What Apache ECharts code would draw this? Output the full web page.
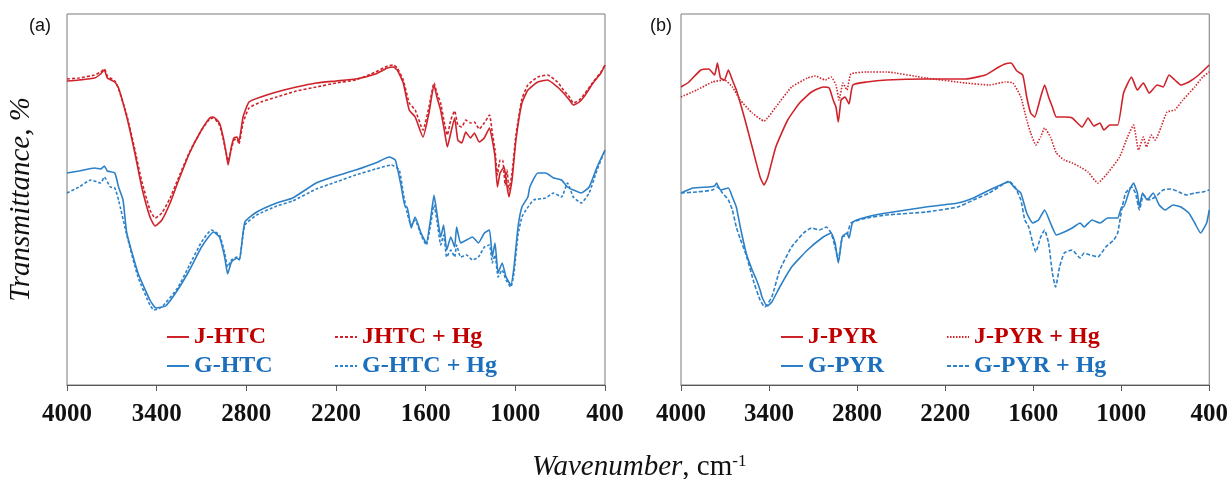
<!DOCTYPE html>
<html><head><meta charset="utf-8">
<script src="https://cdn.jsdelivr.net/npm/echarts@6/dist/echarts.min.js"></script>
<style>html,body{margin:0;padding:0;background:#fff}#c{width:1231px;height:479px}</style>
</head><body><div id="c"></div>
<script>
// x tick labels (wavenumber, cm-1)
const tickLabels = ['4000','3400','2800','2200','1600','1000','400'];

// Panel (a): [wavenumber, transmittance (arbitrary units)]
const jhtc = [[4000,304],[3920,305],[3815,307],[3775,311],[3750,315],[3730,307],[3680,303],[3655,297],[3600,268],[3550,235],[3500,198],[3445,168],[3410,159],[3365,165],[3310,182],[3260,202],[3180,232],[3100,255],[3045,267],[3020,268],[2980,262],[2955,248],[2935,232],[2922,220],[2900,238],[2883,247],[2862,248],[2850,243],[2822,268],[2782,283],[2703,288],[2597,293],[2465,298],[2332,302],[2200,304],[2068,306],[1935,311],[1856,317],[1816,318],[1790,315],[1750,302],[1710,275],[1670,268],[1618,248],[1578,272],[1544,300],[1525,288],[1500,275],[1472,252],[1455,238],[1432,252],[1406,267],[1385,245],[1358,242],[1332,253],[1300,247],[1274,252],[1242,243],[1208,247],[1173,257],[1154,245],[1136,228],[1120,198],[1102,212],[1075,218],[1062,205],[1043,188],[1022,205],[996,245],[956,282],[916,295],[850,303],[784,305],[718,298],[678,292],[638,285],[612,280],[572,283],[532,290],[480,302],[427,312],[400,320]];
const jhtcHg = [[4000,306],[3920,307],[3815,310],[3775,313],[3750,316],[3730,309],[3680,304],[3655,296],[3600,270],[3550,238],[3500,204],[3445,175],[3410,167],[3365,172],[3310,187],[3260,205],[3180,233],[3100,255],[3045,266],[3020,267],[2980,260],[2955,246],[2935,232],[2922,224],[2900,236],[2883,245],[2862,246],[2850,241],[2822,262],[2782,277],[2703,283],[2597,288],[2465,294],[2332,298],[2200,302],[2068,305],[1935,313],[1856,319],[1816,320],[1790,317],[1750,305],[1710,282],[1670,275],[1618,255],[1578,278],[1544,302],[1525,292],[1500,282],[1472,260],[1455,250],[1432,265],[1406,274],[1385,260],[1358,258],[1332,265],[1300,262],[1274,263],[1242,256],[1208,262],[1173,270],[1154,252],[1136,235],[1120,210],[1102,225],[1085,225],[1068,200],[1055,215],[1043,195],[1022,212],[996,250],[956,286],[916,300],[850,308],[784,310],[718,303],[678,295],[638,288],[612,282],[572,285],[532,292],[480,303],[427,313],[400,320]];
const ghtc = [[4000,212],[3920,214],[3815,217],[3775,216],[3750,219],[3730,214],[3680,212],[3655,198],[3625,185],[3600,152],[3525,112],[3445,85],[3405,77],[3340,79],[3260,95],[3180,115],[3100,138],[3020,153],[2980,148],[2945,128],[2925,111],[2900,123],[2862,127],[2846,125],[2810,163],[2730,173],[2597,182],[2490,187],[2332,202],[2200,209],[2068,215],[1935,222],[1843,228],[1803,225],[1763,198],[1737,178],[1724,178],[1697,157],[1671,168],[1631,152],[1596,142],[1565,168],[1544,190],[1525,172],[1499,148],[1480,160],[1459,135],[1432,148],[1406,138],[1393,158],[1366,142],[1327,145],[1287,148],[1247,142],[1207,152],[1173,155],[1154,128],[1136,142],[1115,112],[1088,122],[1062,108],[1030,100],[1009,118],[982,158],[956,178],[916,188],[903,198],[850,212],[797,212],[744,207],[691,205],[651,198],[612,195],[559,192],[506,198],[453,218],[400,235]];
const ghtcHg = [[4000,192],[3920,198],[3841,205],[3775,202],[3750,208],[3710,198],[3680,197],[3655,185],[3600,150],[3525,108],[3445,80],[3418,75],[3365,78],[3260,97],[3180,120],[3100,143],[3034,155],[2980,150],[2945,132],[2925,118],[2900,125],[2862,128],[2846,126],[2810,160],[2730,170],[2597,179],[2490,184],[2332,196],[2200,203],[2068,210],[1935,216],[1829,220],[1777,215],[1750,192],[1724,172],[1697,160],[1671,165],[1631,150],[1596,140],[1565,162],[1544,180],[1525,165],[1499,140],[1480,150],[1459,128],[1432,135],[1406,128],[1393,140],[1366,128],[1327,130],[1287,125],[1247,128],[1207,138],[1173,140],[1154,122],[1136,130],[1115,108],[1088,115],[1062,105],[1030,98],[1009,112],[982,150],[956,168],[929,175],[877,185],[797,187],[744,192],[691,188],[651,202],[612,188],[559,182],[506,192],[453,215],[400,235]];

// Panel (b)
const jpyr = [[4000,298],[3946,303],[3865,315],[3811,316],[3771,310],[3752,322],[3731,307],[3704,305],[3677,315],[3650,305],[3623,295],[3569,268],[3515,238],[3461,208],[3434,200],[3408,208],[3354,238],[3273,265],[3192,282],[3111,293],[3031,298],[2990,297],[2963,285],[2944,278],[2928,263],[2909,285],[2882,288],[2855,281],[2829,300],[2734,303],[2600,305],[2330,306],[2061,306],[1926,310],[1846,317],[1792,321],[1751,322],[1711,314],[1671,310],[1644,288],[1617,272],[1590,268],[1549,288],[1522,300],[1495,288],[1469,278],[1442,268],[1388,268],[1334,267],[1267,258],[1226,267],[1186,259],[1145,262],[1118,255],[1078,260],[1024,260],[984,292],[930,308],[890,295],[849,302],[809,292],[755,300],[714,298],[674,310],[634,305],[593,300],[539,303],[472,310],[400,320]];
const jpyrHg = [[4000,288],[3892,295],[3785,303],[3704,305],[3650,298],[3596,285],[3515,272],[3434,264],[3354,278],[3246,298],[3138,307],[3084,309],[3017,305],[2977,308],[2944,300],[2923,285],[2896,302],[2869,295],[2842,311],[2734,313],[2600,313],[2330,307],[2061,302],[1899,300],[1792,303],[1738,302],[1684,288],[1644,265],[1617,252],[1582,240],[1549,248],[1522,257],[1482,248],[1442,232],[1388,225],[1334,222],[1280,218],[1226,213],[1159,202],[1092,212],[1011,228],[957,248],[916,260],[882,235],[849,248],[828,238],[795,250],[768,245],[728,258],[688,273],[634,275],[580,285],[499,298],[445,308],[400,313]];
const gpyr = [[4000,192],[3919,197],[3811,198],[3771,199],[3758,202],[3731,195],[3677,197],[3650,188],[3623,178],[3596,158],[3556,132],[3515,115],[3488,106],[3461,95],[3448,88],[3413,79],[3381,83],[3327,98],[3246,118],[3138,135],[3031,148],[2977,152],[2950,142],[2928,122],[2901,148],[2869,152],[2855,147],[2829,163],[2734,168],[2600,172],[2330,178],[2115,182],[2007,187],[1926,193],[1792,202],[1765,203],[1724,197],[1684,192],[1644,172],[1603,162],[1563,165],[1522,175],[1482,162],[1442,150],[1388,153],[1334,157],[1280,162],[1253,158],[1199,165],[1145,162],[1092,167],[1024,167],[997,178],[984,178],[943,195],[916,202],[890,192],[876,178],[855,192],[822,185],[782,192],[741,180],[701,175],[647,180],[593,178],[539,172],[499,162],[459,152],[418,162],[400,175]];
const gpyrHg = [[4000,192],[3892,193],[3785,195],[3752,198],[3717,192],[3677,185],[3650,175],[3623,158],[3596,146],[3556,130],[3502,102],[3461,85],[3429,78],[3381,88],[3327,115],[3246,138],[3165,152],[3111,157],[3057,155],[3009,158],[2977,152],[2950,138],[2928,125],[2901,148],[2869,150],[2842,162],[2734,167],[2600,170],[2330,173],[2115,178],[2007,185],[1899,192],[1792,202],[1765,204],[1724,198],[1684,185],[1657,165],[1630,158],[1603,142],[1582,133],[1549,148],[1522,155],[1495,142],[1469,112],[1447,98],[1420,118],[1388,132],[1334,135],[1280,127],[1253,132],[1213,130],[1159,128],[1105,138],[1051,145],[1024,152],[997,175],[970,192],[930,198],[903,192],[876,175],[849,190],[809,185],[768,188],[714,195],[661,196],[607,193],[553,190],[499,192],[445,193],[400,195]];

const RED = '#cf232b', BLUE = '#2c80c8', RED_T = '#c00000', BLUE_T = '#1c6fbd';
const serif = '"Liberation Serif","Times New Roman",serif';
const sans = '"Liberation Sans",Arial,sans-serif';

function xAx(i) {
  return {
    gridIndex: i, type: 'value', inverse: true, min: 400, max: 4000, interval: 600,
    axisLine: { onZero: false, lineStyle: { color: '#5a5a5a', width: 1 } },
    axisTick: { length: 6, lineStyle: { color: '#5a5a5a' } },
    splitLine: { show: false },
    axisLabel: {
      showMinLabel: true, showMaxLabel: true, hideOverlap: false,
      formatter: v => { const t = tickLabels.find(s => +s === v); return t || ''; },
      fontFamily: serif, fontWeight: 'bold', fontSize: 25, color: '#111', margin: 17
    }
  };
}
function yAx(i) {
  return {
    gridIndex: i, type: 'value', min: 0, max: 371,
    axisLine: { show: false }, axisTick: { show: false }, axisLabel: { show: false }, splitLine: { show: false },
    name: i === 0 ? 'Transmittance, %' : '', nameLocation: 'middle', nameGap: 31,
    nameTextStyle: { fontFamily: serif, fontStyle: 'italic', fontWeight: 'normal', fontSize: 29, color: '#111' }
  };
}
function ln(name, data, gi, color, type) {
  return {
    name, type: 'line', xAxisIndex: gi, yAxisIndex: gi, data,
    showSymbol: false, symbol: 'none', smooth: 0.15,
    lineStyle: { color, width: 1.6, type }, itemStyle: { color }
  };
}
function lg(items, left) {
  return {
    data: items.map(([n, c]) => ({ name: n, textStyle: { color: c } })),
    orient: 'vertical', left, top: 325, padding: 0,
    itemWidth: 22, itemHeight: 12, itemGap: 5,
    itemStyle: { opacity: 0 },
    lineStyle: { width: 2 },
    textStyle: { fontFamily: serif, fontWeight: 'bold', fontSize: 24 }
  };
}

const chart = echarts.init(document.getElementById('c'));
chart.setOption({
  animation: false,
  backgroundColor: '#fff',
  title: [
    { text: '(a)', left: 24, top: 12, textStyle: { fontFamily: sans, fontWeight: 'normal', fontSize: 18, color: '#111' } },
    { text: '(b)', left: 645, top: 12, textStyle: { fontFamily: sans, fontWeight: 'normal', fontSize: 18, color: '#111' } },
    {
      text: '{i|Wavenumber}{n|, cm}{s|-1}', left: 527, top: 448,
      textStyle: {
        rich: {
          i: { fontFamily: serif, fontStyle: 'italic', fontWeight: 'normal', fontSize: 29, color: '#111' },
          n: { fontFamily: serif, fontWeight: 'normal', fontSize: 29, color: '#111' },
          s: { fontFamily: serif, fontWeight: 'normal', fontSize: 17, color: '#111', verticalAlign: 'top' }
        }
      }
    }
  ],
  grid: [
    { left: 67, top: 14, width: 538, height: 371, show: true, borderColor: '#7a7a7a', borderWidth: 1 },
    { left: 681, top: 14, width: 529, height: 371, show: true, borderColor: '#7a7a7a', borderWidth: 1 }
  ],
  xAxis: [xAx(0), xAx(1)],
  yAxis: [yAx(0), yAx(1)],
  legend: [
    lg([['J-HTC', RED_T], ['G-HTC', BLUE_T]], 166),
    lg([['JHTC + Hg', RED_T], ['G-HTC + Hg', BLUE_T]], 334),
    lg([['J-PYR', RED_T], ['G-PYR', BLUE_T]], 780),
    lg([['J-PYR + Hg', RED_T], ['G-PYR + Hg', BLUE_T]], 946)
  ],
  series: [
    ln('J-HTC', jhtc, 0, RED, 'solid'),
    ln('JHTC + Hg', jhtcHg, 0, RED, [3, 2]),
    ln('G-HTC', ghtc, 0, BLUE, 'solid'),
    ln('G-HTC + Hg', ghtcHg, 0, BLUE, [3, 2]),
    ln('J-PYR', jpyr, 1, RED, 'solid'),
    ln('J-PYR + Hg', jpyrHg, 1, RED, [1.5, 1.5]),
    ln('G-PYR', gpyr, 1, BLUE, 'solid'),
    ln('G-PYR + Hg', gpyrHg, 1, BLUE, [4, 2])
  ]
});
</script></body></html>
